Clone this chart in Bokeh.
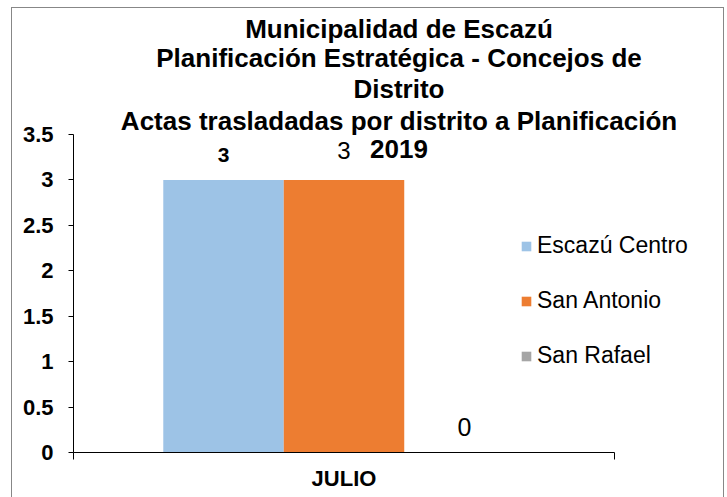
from bokeh.plotting import figure
from bokeh.models import (ColumnDataSource, Range1d, FixedTicker,
                          Legend, LegendItem, Label)
from bokeh.transform import dodge
from bokeh.core.properties import value
from bokeh.embed import file_html
from bokeh.resources import INLINE

# ---- data ----
categories = ["JULIO"]
series_names = ["Escazú Centro", "San Antonio", "San Rafael"]
escazu_centro = [3]
san_antonio = [3]
san_rafael = [0]
y_ticks = [0, 0.5, 1, 1.5, 2, 2.5, 3, 3.5]
y_tick_labels = ["0", "0.5", "1", "1.5", "2", "2.5", "3", "3.5"]
title_lines = [
    "Municipalidad de Escazú",
    "Planificación Estratégica - Concejos de",
    "Distrito",
    "Actas trasladadas por distrito a Planificación",
    "2019",
]

# ---- layout / styles ----
FONT = "Liberation Sans"
W, H = 727, 497
LEFT, BOTTOM = 73, 45            # frame left / bottom borders
AXIS_W, AXIS_H = 541, 318        # visible axis lengths (px)
FRAME_W, FRAME_H = W - LEFT, H - BOTTOM
n_cat = len(categories)
y_max = y_ticks[-1]

colors = ["#9DC3E6", "#ED7D31", "#A5A5A5"]
bar_w = 0.2227
offsets = [-bar_w, 0.0, bar_w]
label_styles = [("bold", "21px", -25), ("normal", "24px", -29), ("normal", "25px", -26)]

cat_pos = [i + 0.5 for i in range(n_cat)]
source = ColumnDataSource(dict(
    x=cat_pos,
    ec=escazu_centro, sa=san_antonio, sr=san_rafael,
    ec_t=[str(v) for v in escazu_centro],
    sa_t=[str(v) for v in san_antonio],
    sr_t=[str(v) for v in san_rafael],
))
cols = ["ec", "sa", "sr"]

p = figure(x_range=Range1d(0, n_cat * FRAME_W / AXIS_W),
           y_range=Range1d(0, y_max * FRAME_H / AXIS_H),
           width=W, height=H, output_backend="svg", toolbar_location=None,
           min_border_left=LEFT, min_border_right=0, min_border_top=0,
           min_border_bottom=BOTTOM)
p.outline_line_color = None
p.xgrid.grid_line_color = None
p.ygrid.grid_line_color = None
p.background_fill_color = "white"
p.border_fill_color = "white"
p.stylesheets = [
    ":host { position: relative; }"
    ":host::after { content: ''; position: absolute; left: 11px; top: 7px; "
    "right: 3px; bottom: 0px; border-style: solid; border-color: #878787; "
    "border-width: 1px 1px 0 1px; pointer-events: none; z-index: 100; }"
]

items = []
for i, c in enumerate(cols):
    r = p.vbar(x=dodge("x", offsets[i]), top=c, width=bar_w,
               source=source, fill_color=colors[i], line_color=None)
    items.append(LegendItem(label=series_names[i], renderers=[r]))
    st, sz, off = label_styles[i]
    p.text(x=dodge("x", offsets[i]), y=c, text=c + "_t",
           source=source, text_align="center", text_baseline="middle",
           y_offset=off, text_font=value(FONT), text_font_size=sz,
           text_font_style=st, text_color="black")

# y axis
p.yaxis.bounds = (0, y_max)
p.yaxis.ticker = FixedTicker(ticks=y_ticks)
p.yaxis.major_label_overrides = {t: l for t, l in zip(y_ticks, y_tick_labels)}
p.yaxis.minor_tick_line_color = None
p.yaxis.major_tick_in = 0
p.yaxis.major_tick_out = 5
p.yaxis.major_label_standoff = 15
p.yaxis.axis_line_color = "black"
p.yaxis.major_tick_line_color = "black"
p.yaxis.major_label_text_font = FONT
p.yaxis.major_label_text_font_size = "22px"
p.yaxis.major_label_text_font_style = "bold"
p.yaxis.major_label_text_color = "black"

# x axis (category label at centre, tick marks at category boundaries)
p.xaxis.bounds = (0, n_cat)
p.xaxis.ticker = FixedTicker(ticks=cat_pos, minor_ticks=list(range(n_cat + 1)))
p.xaxis.major_label_overrides = {x: c for x, c in zip(cat_pos, categories)}
p.xaxis.major_tick_line_color = None
p.xaxis.major_tick_in = 0
p.xaxis.major_tick_out = 0
p.xaxis.minor_tick_line_color = "black"
p.xaxis.minor_tick_in = 0
p.xaxis.minor_tick_out = 7
p.xaxis.major_label_standoff = 6
p.xaxis.axis_line_color = "black"
p.xaxis.major_label_text_font = FONT
p.xaxis.major_label_text_font_size = "22px"
p.xaxis.major_label_text_font_style = "bold"
p.xaxis.major_label_text_color = "black"

legend = Legend(items=items, location=(447, 83), orientation="vertical",
                padding=0, margin=0, spacing=28, label_height=24,
                glyph_height=12, glyph_width=12, label_standoff=5,
                border_line_color=None, background_fill_alpha=0,
                label_text_font=FONT, label_text_font_size="23px",
                label_text_color="black")
p.add_layout(legend, "center")

# title lines (screen units relative to plot frame bottom-left)
baselines = [28, 57, 88, 120, 148]
for line, b in zip(title_lines, baselines):
    p.add_layout(Label(x=325.5, y=FRAME_H - b, x_units="screen", y_units="screen",
                       text=line, text_align="center", text_baseline="alphabetic",
                       text_font=FONT, text_font_size="26px",
                       text_font_style="bold", text_color="black"))

open("out.html", "w").write(file_html(p, INLINE))
